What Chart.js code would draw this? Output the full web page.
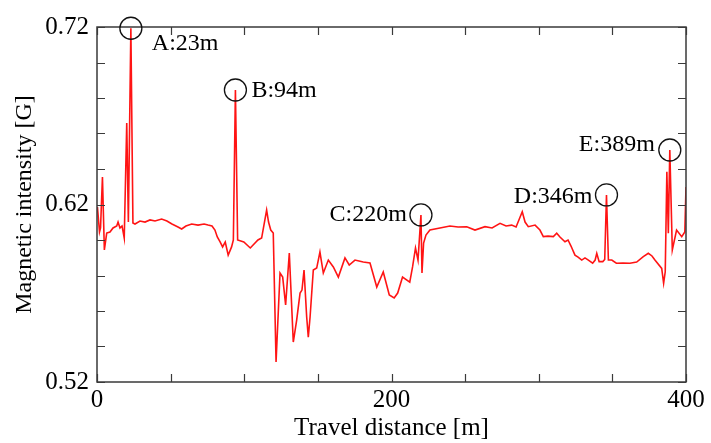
<!DOCTYPE html>
<html>
<head>
<meta charset="utf-8">
<script src="https://cdn.jsdelivr.net/npm/chart.js@4.4.1/dist/chart.umd.min.js"></script>
<style>
  html, body { margin: 0; padding: 0; background: #fff; }
  #wrap { width: 711px; height: 443px; }
</style>
</head>
<body>
<div id="wrap"><canvas id="magChart" width="711" height="443"></canvas></div>
<script>
// travel distance [m] along the route
const distance = [
  0.3, 1.7, 2.4, 3.7, 5.0, 6.6, 8.8, 10.9, 13.4, 14.3, 15.6, 17.0, 18.5, 20.2, 21.3, 23.0,
  24.4, 25.8, 29.2, 32.6, 36.0, 39.4, 43.9, 47.5, 50.9, 55.0, 57.5, 60.4, 64.3, 68.6, 72.7,
  75.4, 78.1, 80.1, 81.7, 83.6, 85.3, 87.1, 89.1, 91.4, 92.6, 94.0, 95.5, 99.7, 104.1, 109.3,
  111.8, 115.2, 116.5, 118.0, 119.7, 121.6, 124.3, 126.1, 128.1, 130.6, 133.3, 135.6, 137.9,
  139.2, 140.6, 142.4, 143.5, 144.7, 146.9, 149.2, 151.4, 153.7, 157.1, 160.5, 163.9, 168.4,
  171.3, 175.2, 180.8, 185.4, 190.0, 194.4, 198.5, 201.8, 204.2, 207.5, 212.4, 214.3, 216.3,
  218.0, 220.0, 220.7, 221.8, 223.4, 226.1, 232.9, 239.7, 245.2, 251.1, 256.7, 263.5, 268.3,
  273.7, 277.8, 281.6, 284.6, 288.8, 290.7, 292.9, 297.5, 300.8, 303.1, 306.3, 309.9, 312.2,
  314.4, 317.8, 319.9, 321.9, 324.6, 326.7, 329.2, 331.4, 333.7, 336.6, 338.3, 339.4, 341.0,
  343.5, 344.8, 346.0, 347.3, 349.6, 352.7, 357.2, 361.9, 366.5, 371.0, 374.4, 376.9, 378.9,
  383.5, 384.8, 385.9, 387.0, 388.0, 389.0, 390.7, 393.6, 397.1, 399.2, 400.0
];

// magnetic intensity [G]
const intensity = [
  0.6186, 0.6045, 0.6068, 0.6355, 0.5944, 0.6039, 0.6045, 0.6068, 0.6079, 0.6101, 0.6068, 0.6079, 0.6011, 0.6659, 0.6101, 0.7193,
  0.6096, 0.6090, 0.6107, 0.6101, 0.6113, 0.6107, 0.6118, 0.6107, 0.6090, 0.6073, 0.6062, 0.6079, 0.6090, 0.6084, 0.6090,
  0.6084, 0.6079, 0.6056, 0.6017, 0.5989, 0.5961, 0.5989, 0.5915, 0.5961, 0.6000, 0.6845, 0.6000, 0.5989, 0.5955, 0.6000,
  0.6011, 0.6169, 0.6101, 0.6056, 0.6039, 0.5313, 0.5814, 0.5791, 0.5634, 0.5927, 0.5425, 0.5549, 0.5701,
  0.5718, 0.5831, 0.5566, 0.5453, 0.5566, 0.5831, 0.5842, 0.5932, 0.5814, 0.5887, 0.5848, 0.5791, 0.5899,
  0.5859, 0.5887, 0.5876, 0.5870, 0.5735, 0.5820, 0.5690, 0.5673, 0.5701, 0.5791, 0.5763, 0.5848, 0.5955,
  0.5887, 0.6141, 0.5814, 0.5983, 0.6028, 0.6056, 0.6068, 0.6079, 0.6073, 0.6075, 0.6056, 0.6075, 0.6068,
  0.6094, 0.6079, 0.6084, 0.6073, 0.6159, 0.6101, 0.6075, 0.6084, 0.6056, 0.6019, 0.6022, 0.6019, 0.6038,
  0.6017, 0.5990, 0.6000, 0.5966, 0.5915, 0.5904, 0.5887, 0.5899, 0.5887, 0.5869, 0.5887, 0.5925, 0.5878,
  0.5878, 0.5890, 0.6254, 0.5887, 0.5887, 0.5869, 0.5870, 0.5869, 0.5876, 0.5906, 0.5925, 0.5910, 0.5887,
  0.5840, 0.5756, 0.5821, 0.6385, 0.6038, 0.6507, 0.5944, 0.6056, 0.6019, 0.6045, 0.6299
];

// marked peaks
const peakNames = ['A', 'B', 'C', 'D', 'E'];
const peakDistances = [23, 94, 220, 346, 389];

// axis ticks that carry a label
const xTickLabels = [0, 200, 400];
const yTickLabels = ['0.52', '0.62', '0.72'];

const SERIF = '"Liberation Serif", "Times New Roman", serif';

// where each peak label sits relative to its circle
const calloutPlacement = {
  A: { align: 'left', dx: 21, dy: 15 },
  B: { align: 'left', dx: 16, dy: 1 },
  C: { align: 'right', dx: -14, dy: 0 },
  D: { align: 'right', dx: -14, dy: 2 },
  E: { align: 'right', dx: -15, dy: -5 }
};

const frameAndCallouts = {
  id: 'frameAndCallouts',
  afterDraw(chart) {
    const { ctx, chartArea: a, scales: { x, y } } = chart;
    ctx.save();

    // box around the plot
    ctx.strokeStyle = '#3a3a3a';
    ctx.lineWidth = 1.5;
    ctx.strokeRect(a.left, a.top, a.right - a.left, a.bottom - a.top);

    // inward tick marks on all four sides
    const tick = 8;
    ctx.lineWidth = 1.2;
    ctx.beginPath();
    x.ticks.forEach(t => {
      const px = Math.round(x.getPixelForValue(t.value)) + 0.5;
      ctx.moveTo(px, a.bottom); ctx.lineTo(px, a.bottom - tick);
      ctx.moveTo(px, a.top); ctx.lineTo(px, a.top + tick);
    });
    y.ticks.forEach(t => {
      const py = Math.round(y.getPixelForValue(t.value)) + 0.5;
      ctx.moveTo(a.left, py); ctx.lineTo(a.left + tick, py);
      ctx.moveTo(a.right, py); ctx.lineTo(a.right - tick, py);
    });
    ctx.stroke();

    // circled peaks with their labels
    ctx.font = '24px ' + SERIF;
    ctx.fillStyle = '#000';
    ctx.textBaseline = 'middle';
    peakNames.forEach((name, i) => {
      const d = peakDistances[i];
      const idx = distance.indexOf(d);
      const cx = x.getPixelForValue(d);
      const cy = y.getPixelForValue(intensity[idx]);
      ctx.beginPath();
      ctx.lineWidth = 1.3;
      ctx.strokeStyle = '#111';
      ctx.arc(cx, cy, 11, 0, Math.PI * 2);
      ctx.stroke();
      const p = calloutPlacement[name];
      ctx.textAlign = p.align;
      ctx.fillText(name + ':' + d + 'm', cx + p.dx, cy + p.dy);
    });

    ctx.restore();
  }
};

new Chart(document.getElementById('magChart'), {
  type: 'line',
  data: {
    datasets: [{
      data: distance.map((d, i) => ({ x: d, y: intensity[i] })),
      borderColor: '#ff1414',
      borderWidth: 1.6,
      pointRadius: 0,
      tension: 0,
      fill: false
    }]
  },
  options: {
    responsive: false,
    animation: false,
    layout: { padding: { top: 27, right: 25, left: 0, bottom: 0 } },
    plugins: {
      legend: { display: false },
      tooltip: { enabled: false }
    },
    scales: {
      x: {
        type: 'linear',
        min: 0,
        max: 400,
        grid: { display: false, drawTicks: false },
        border: { display: false },
        ticks: {
          stepSize: 50,
          autoSkip: false,
          maxRotation: 0,
          padding: 3,
          color: '#000',
          font: { family: SERIF, size: 25 },
          callback: v => xTickLabels.includes(v) ? String(v) : ''
        },
        title: {
          display: true,
          text: 'Travel distance [m]',
          color: '#000',
          font: { family: SERIF, size: 25 },
          padding: { top: 0, bottom: 0 }
        },
        afterFit: s => { s.height = 61; }
      },
      y: {
        type: 'linear',
        min: 0.52,
        max: 0.72,
        grid: { display: false, drawTicks: false },
        border: { display: false },
        ticks: {
          stepSize: 0.02,
          autoSkip: false,
          padding: 8,
          color: '#000',
          font: { family: SERIF, size: 25 },
          callback: v => {
            const s = v.toFixed(2);
            return yTickLabels.includes(s) ? s : '';
          }
        },
        title: {
          display: true,
          text: 'Magnetic intensity [G]',
          color: '#000',
          font: { family: SERIF, size: 24 },
          padding: { top: 10, bottom: 0 }
        },
        afterFit: s => { s.width = 97; }
      }
    }
  },
  plugins: [frameAndCallouts]
});
</script>
</body>
</html>
